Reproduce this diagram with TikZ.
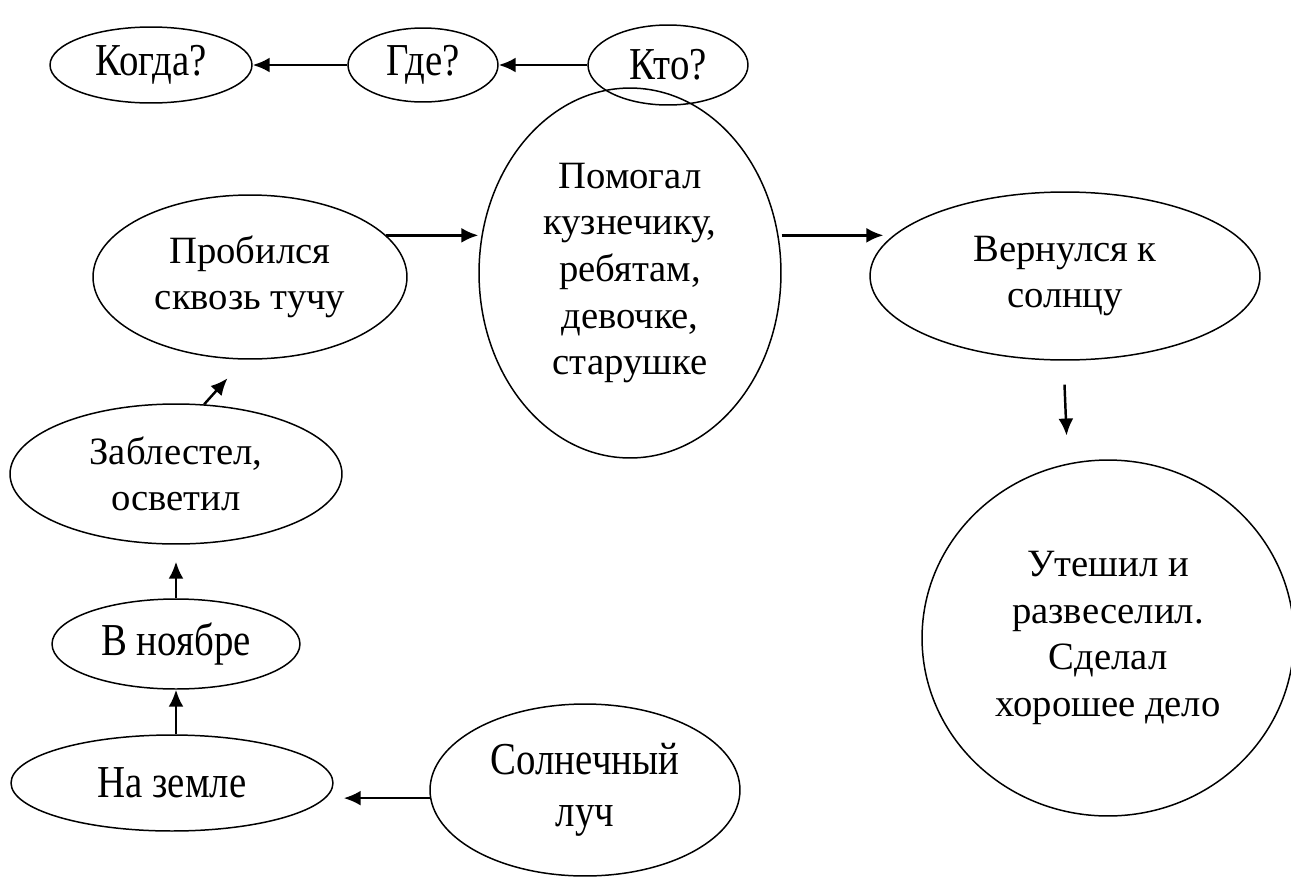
\documentclass[tikz,border=0pt]{standalone}
\usepackage{fontspec}
\setmainfont{Liberation Serif}
\newfontfamily\narrowserif[FakeStretch=0.85]{Liberation Serif}
\usetikzlibrary{arrows.meta,shapes.geometric}

\begin{document}
\begin{tikzpicture}[x=0.02cm, y=-0.02cm, line width=0.85pt,
  oval/.style={draw, ellipse, inner sep=0pt, align=center, font=\fontsize{22}{26.5}\selectfont},
  slim/.style={oval, font=\narrowserif\fontsize{26}{29.5}\selectfont},
  arr/.style={line width=1.4pt, -{Latex[length=3.4mm, width=3mm]}}]
	\useasboundingbox (0,0) rectangle (1291,876);
	\node[slim, minimum width=4.04cm, minimum height=1.52cm] (kogda) at (151,65) {Когда?};
	\node[slim, minimum width=3.0cm, minimum height=1.48cm] (gde) at (423,65) {Где?};
	\node[slim, minimum width=3.2cm, minimum height=1.6cm] (kto) at (668,65) {Кто?};
	\node[oval, minimum width=6.04cm, minimum height=7.4cm] (pom) at (630,273) {Помогал\\кузнечику,\\ребятам,\\девочке,\\старушке};
	\node[oval, minimum width=6.28cm, minimum height=3.28cm] (prob) at (250,277) {Пробился\\сквозь тучу};
	\node[oval, minimum width=7.8cm, minimum height=3.36cm] (vern) at (1065,276) {Вернулся к\\солнцу};
	\node[oval, minimum width=7.44cm, minimum height=7.12cm] (utesh) at (1108,638) {Утешил и\\развеселил.\\Сделал\\хорошее дело};
	\node[oval, minimum width=6.64cm, minimum height=2.8cm] (zab) at (176,474) {Заблестел,\\осветил};
	\node[slim, minimum width=4.96cm, minimum height=1.8cm] (nojab) at (176,644) {В ноябре};
	\node[slim, minimum width=6.44cm, minimum height=1.92cm] (zemle) at (172,783) {На земле};
	\node[slim, minimum width=6.2cm, minimum height=3.44cm] (luch) at (585,790) {Солнечный\\луч};
	\draw[arr] (kto.west) -- (gde.east);
	\draw[arr] (gde.west) -- (kogda.east);
	\draw[arr] (prob.17) -- (prob.17 -| pom.west);
	\draw[arr, shorten >=0.18cm] (prob.17 -| pom.east) -- (prob.17 -| vern.167);
	\draw[arr, shorten <=0.48cm, shorten >=0.56cm] (vern.-91) -- (utesh.103);
	\draw[arr, shorten >=0.5cm] (zab.68) -- (prob.-94);
	\draw[arr, shorten >=0.34cm] (nojab.north) -- (zab.south);
	\draw[arr] (zemle.north -| nojab.south) -- (nojab.south);
	\draw[arr, shorten >=0.2cm] (luch.183) -- (luch.183 -| zemle.east);
\end{tikzpicture}
\end{document}
